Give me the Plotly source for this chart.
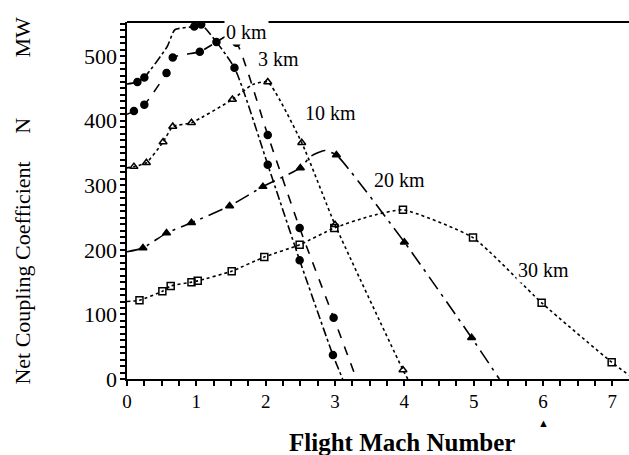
import plotly.graph_objects as go

# ---------------- data ----------------
mach_ticks = [0, 1, 2, 3, 4, 5, 6, 7]
n_ticks = [0, 100, 200, 300, 400, 500]

# 0 km
km0_x = [0, 0.15, 0.25, 0.58, 0.69, 0.97, 1.07, 1.55, 2.03, 2.49, 2.97, 3.11]
km0_y = [457, 460, 467, 515, 541, 546, 549, 482, 332, 184, 37, 0]
km0_mx = [0.15, 0.25, 0.97, 1.07, 1.55, 2.03, 2.49, 2.97]
km0_my = [460, 467, 546, 549, 482, 332, 184, 37]

# 3 km
km3_x = [0, 0.1, 0.25, 0.57, 0.66, 1.05, 1.29, 1.42, 1.58, 2.03, 2.49, 2.98, 3.31]
km3_y = [410, 415, 425, 474, 498, 507, 522, 530, 521, 378, 234, 95, 0]
km3_mx = [0.1, 0.25, 0.57, 0.66, 1.05, 1.29, 1.58, 2.03, 2.49, 2.98]
km3_my = [415, 425, 474, 498, 507, 522, 521, 378, 234, 95]

# 10 km
km10_x = [0, 0.1, 0.28, 0.52, 0.66, 0.93, 1.52, 1.81, 2.03, 2.52, 3.0, 3.98, 4.05]
km10_y = [327, 329, 335, 367, 391, 397, 433, 456, 460, 366, 239, 14, 0]
km10_mx = [0.1, 0.28, 0.52, 0.66, 0.93, 1.52, 2.03, 2.52, 3.0, 3.98]
km10_my = [329, 335, 367, 391, 397, 433, 460, 366, 239, 14]

# 20 km
km20_x = [0, 0.23, 0.57, 0.93, 1.48, 1.96, 2.5, 2.65, 2.85, 3.02, 4.0, 4.97, 5.37]
km20_y = [197, 203, 226, 242, 268, 298, 327, 345, 354, 347, 212, 64, 0]
km20_mx = [0.23, 0.57, 0.93, 1.48, 1.96, 2.5, 3.02, 4.0, 4.97]
km20_my = [203, 226, 242, 268, 298, 327, 347, 212, 64]

# 30 km
km30_x = [0, 0.18, 0.51, 0.63, 0.93, 1.02, 1.51, 1.98, 2.49, 2.99, 3.5, 3.98, 4.99, 5.98, 6.99, 7.24]
km30_y = [120, 122, 136, 144, 150, 152, 167, 189, 208, 234, 252, 262, 219, 118, 26, 6]
km30_mx = [0.18, 0.51, 0.63, 0.93, 1.02, 1.51, 1.98, 2.49, 2.99, 3.98, 4.99, 5.98, 6.99]
km30_my = [122, 136, 144, 150, 152, 167, 189, 208, 234, 262, 219, 118, 26]

labels = ["0 km", "3 km", "10 km", "20 km", "30 km"]
label_x = [1.72, 2.18, 2.94, 3.93, 6.0]
label_y = [538, 495, 412, 308, 169]

# ---------------- figure ----------------
FONT = "Liberation Serif"
fig = go.Figure()

series = [
    (km0_x, km0_y, km0_mx, km0_my, "dashdot", "circle"),
    (km3_x, km3_y, km3_mx, km3_my, "dash", "circle"),
    (km10_x, km10_y, km10_mx, km10_my, "dot", "triangle-up-open"),
    (km20_x, km20_y, km20_mx, km20_my, "longdashdot", "triangle-up"),
    (km30_x, km30_y, km30_mx, km30_my, "dot", "square-open"),
]
for xs, ys, mx, my, dash, sym in series:
    fig.add_trace(go.Scatter(x=xs, y=ys, mode="lines",
                             line=dict(color="black", width=1.6, dash=dash,
                                       shape="spline", smoothing=0.5),
                             hoverinfo="skip"))
    fig.add_trace(go.Scatter(x=mx, y=my, mode="markers",
                             marker=dict(symbol=sym, size=7, color="black",
                                         line=dict(color="black", width=1.5)),
                             hoverinfo="skip"))

for t, lx, ly in zip(labels, label_x, label_y):
    fig.add_annotation(x=lx, y=ly, xref="x", yref="y", text=t, showarrow=False,
                       font=dict(family=FONT, size=20, color="black"),
                       bgcolor="white")

XR = [0, 7.24]
YR = [0, 553]

fig.update_layout(
    width=629, height=455,
    margin=dict(l=127, r=0, t=22, b=76),
    plot_bgcolor="white", paper_bgcolor="white",
    showlegend=False,
    font=dict(family=FONT, color="black"),
    # main axes: axis lines with dense tick marks (quarter Mach, 10 MW)
    xaxis=dict(range=XR, tickmode="linear", tick0=0, dtick=0.25,
               ticks="outside", ticklen=5, tickwidth=1.5, tickcolor="black",
               showline=True, linewidth=1.6, linecolor="black",
               showgrid=False, zeroline=False, showticklabels=False),
    yaxis=dict(range=YR, tickmode="linear", tick0=0, dtick=10,
               ticks="outside", ticklen=5, tickwidth=1.5, tickcolor="black",
               showline=True, linewidth=1.6, linecolor="black",
               showgrid=False, zeroline=False, showticklabels=False),
    # label-only overlay axes (no tick marks of their own)
    xaxis3=dict(range=XR, tickmode="array", tickvals=mach_ticks,
                anchor="y", overlaying="x", side="bottom", ticks="",
                ticklabelstandoff=9,
                showline=False, showgrid=False, zeroline=False,
                tickfont=dict(family=FONT, size=19, color="black")),
    yaxis3=dict(range=YR, tickmode="array", tickvals=n_ticks,
                anchor="x", overlaying="y", side="left", ticks="",
                ticklabelstandoff=9,
                showline=False, showgrid=False, zeroline=False,
                tickfont=dict(family=FONT, size=22, color="black")),
)
fig.add_trace(go.Scatter(x=[0], y=[0], xaxis="x3", yaxis="y3", mode="markers",
                         marker=dict(opacity=0), hoverinfo="skip"))

# top border
fig.add_shape(type="line", xref="paper", yref="paper", x0=0, x1=1, y0=1, y1=1,
              line=dict(color="black", width=1.8))

# axis titles
fig.add_annotation(x=3.96, y=-0.178, xref="x", yref="paper",
                   text="<b>Flight Mach Number</b>", showarrow=False,
                   font=dict(family=FONT, size=25, color="black"),
                   xanchor="center", yanchor="middle")
NB = "\u00a0"
fig.add_annotation(x=-0.209, y=0.50, xref="paper", yref="paper",
                   text="Net Coupling Coefficient" + NB * 5 + "N" + NB * 11 + "MW",
                   textangle=-90, showarrow=False,
                   font=dict(family=FONT, size=22, color="black"),
                   xanchor="center", yanchor="middle")
# small triangle mark below the axis
fig.add_annotation(x=6.0, y=-0.145, xref="x", yref="paper", text="\u25b2",
                   showarrow=False, font=dict(family=FONT, size=11, color="black"))

fig.write_html("out.html")
